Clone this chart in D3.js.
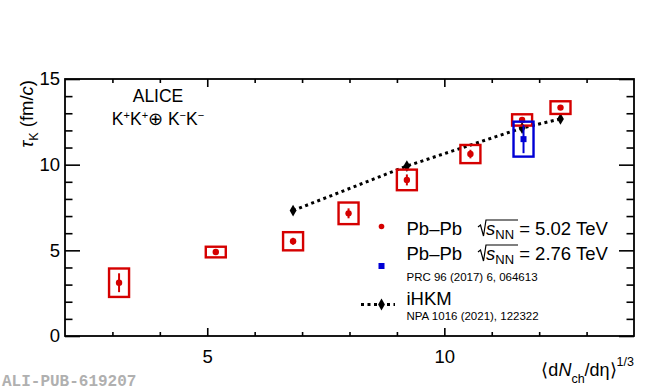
<!DOCTYPE html>
<html>
<head>
<meta charset="utf-8">
<script src="https://cdn.jsdelivr.net/npm/d3@7"></script>
<style>
  html, body { margin: 0; padding: 0; background: #fff; }
  svg { display: block; font-family: "Liberation Sans", Arial, Helvetica, sans-serif; }
  text { fill: #000; }
</style>
</head>
<body>
<svg id="chart" width="650" height="390"></svg>
<script>
// ---------------- DATA ----------------
const x502    = [3.14, 5.18, 6.81, 7.98, 9.21, 10.55, 11.64, 12.45];
const y502    = [3.11, 4.90, 5.53, 7.16, 9.11, 10.62, 12.61, 13.33];
const stat502 = [0.55, 0.17, 0.20, 0.29, 0.32, 0.25, 0.12, 0.12];
const sys502  = [0.83, 0.31, 0.53, 0.63, 0.60, 0.53, 0.33, 0.37];

const x276    = [11.67];
const y276    = [11.49];
const stat276 = [0.82];
const sys276  = [1.02];

const xHKM = [6.81, 9.21, 11.64, 12.45];
const yHKM = [7.32, 9.92, 12.14, 12.67];

const xMajorTicks = [5, 10];
const xMinorTicks = [3, 4, 6, 7, 8, 9, 11, 12, 13];
const yMajorTicks = [0, 5, 10, 15];
const yMinorTicks = [1, 2, 3, 4, 6, 7, 8, 9, 11, 12, 13, 14];

// ---------------- LAYOUT ----------------
const svg = d3.select("#chart");
const L = 65, R = 634, T = 79, B = 336;
const x = d3.scaleLinear().domain([2, 14]).range([L, R]);
const y = d3.scaleLinear().domain([0, 15]).range([B, T]);

const RED = "#d50000", BLUE = "#0000d5";
const BOX_HALF = 10; // px
const SANS = '"Liberation Sans", Arial, Helvetica, sans-serif';

// ---------------- AXES ----------------
function styleAxis(g) {
  g.attr("font-family", null).attr("font-size", null);
  g.select(".domain").remove();
  g.selectAll(".tick line").attr("stroke", "#000").attr("stroke-width", 1.6);
  g.selectAll(".tick text").style("font-size", "18.5px").style("font-family", SANS).attr("fill", "#000");
}
// bottom
svg.append("g").attr("transform", `translate(0,${B})`)
  .call(d3.axisBottom(x).tickValues(xMajorTicks).tickSize(-8).tickPadding(14).tickFormat(d3.format("d")))
  .call(styleAxis);
svg.append("g").attr("transform", `translate(0,${B})`)
  .call(d3.axisBottom(x).tickValues(xMinorTicks).tickSize(-4).tickFormat(""))
  .call(styleAxis);
// top
svg.append("g").attr("transform", `translate(0,${T})`)
  .call(d3.axisTop(x).tickValues(xMajorTicks).tickSize(-8).tickFormat(""))
  .call(styleAxis);
svg.append("g").attr("transform", `translate(0,${T})`)
  .call(d3.axisTop(x).tickValues(xMinorTicks).tickSize(-4).tickFormat(""))
  .call(styleAxis);
// left
svg.append("g").attr("transform", `translate(${L},0)`)
  .call(d3.axisLeft(y).tickValues(yMajorTicks).tickSize(-15).tickPadding(5).tickFormat(d3.format("d")))
  .call(styleAxis);
svg.append("g").attr("transform", `translate(${L},0)`)
  .call(d3.axisLeft(y).tickValues(yMinorTicks).tickSize(-7.5).tickFormat(""))
  .call(styleAxis);
// right
svg.append("g").attr("transform", `translate(${R},0)`)
  .call(d3.axisRight(y).tickValues(yMajorTicks).tickSize(-15).tickFormat(""))
  .call(styleAxis);
svg.append("g").attr("transform", `translate(${R},0)`)
  .call(d3.axisRight(y).tickValues(yMinorTicks).tickSize(-7.5).tickFormat(""))
  .call(styleAxis);
// frame
svg.append("rect").attr("x", L).attr("y", T).attr("width", R - L).attr("height", B - T)
  .attr("fill", "none").attr("stroke", "#000").attr("stroke-width", 1.8);

// ---------------- MODEL LINE ----------------
const hkm = xHKM.map((d, i) => ({ x: d, y: yHKM[i] }));
svg.append("path").datum(hkm)
  .attr("d", d3.line().x(d => x(d.x)).y(d => y(d.y)))
  .attr("fill", "none").attr("stroke", "#000").attr("stroke-width", 3)
  .attr("stroke-dasharray", "3,3.5");
const diamond = d3.symbol().type(d3.symbolDiamond).size(40);
svg.append("g").selectAll("path").data(hkm).join("path")
  .attr("transform", d => `translate(${x(d.x)},${y(d.y)})`)
  .attr("d", diamond).attr("fill", "#000");

// ---------------- DATA POINTS ----------------
function drawSeries(xs, ys, stat, sys, color, marker) {
  const data = xs.map((d, i) => ({ x: d, y: ys[i], st: stat[i], sy: sys[i] }));
  const g = svg.append("g");
  g.selectAll("rect.sys").data(data).join("rect").attr("class", "sys")
    .attr("x", d => x(d.x) - BOX_HALF).attr("width", 2 * BOX_HALF)
    .attr("y", d => y(d.y + d.sy)).attr("height", d => y(d.y - d.sy) - y(d.y + d.sy))
    .attr("fill", "none").attr("stroke", color).attr("stroke-width", 2.4);
  g.selectAll("line.stat").data(data).join("line").attr("class", "stat")
    .attr("x1", d => x(d.x)).attr("x2", d => x(d.x))
    .attr("y1", d => y(d.y + d.st)).attr("y2", d => y(d.y - d.st))
    .attr("stroke", color).attr("stroke-width", 2);
  if (marker === "circle") {
    g.selectAll("circle").data(data).join("circle")
      .attr("cx", d => x(d.x)).attr("cy", d => y(d.y)).attr("r", 3.2).attr("fill", color);
  } else {
    g.selectAll("rect.m").data(data).join("rect").attr("class", "m")
      .attr("x", d => x(d.x) - 3).attr("y", d => y(d.y) - 3)
      .attr("width", 6).attr("height", 6).attr("fill", color);
  }
}
drawSeries(x502, y502, stat502, sys502, RED, "circle");
drawSeries(x276, y276, stat276, sys276, BLUE, "square");

// ---------------- TEXT ----------------
// ALICE label
svg.append("text").attr("x", 158).attr("y", 102).attr("text-anchor", "middle")
  .attr("font-size", 17.5).text("ALICE");
const kk = svg.append("text").attr("x", 158).attr("y", 124.5).attr("text-anchor", "middle").attr("font-size", 17.5);
kk.append("tspan").text("K");
kk.append("tspan").attr("dy", -6).attr("font-size", 11).text("+");
kk.append("tspan").attr("dy", 6).text("K");
kk.append("tspan").attr("dy", -6).attr("font-size", 11).text("+");
kk.append("tspan").attr("dy", 6).text("\u2295 K");
kk.append("tspan").attr("dy", -6).attr("font-size", 11).text("\u2212");
kk.append("tspan").attr("dy", 6).text("K");
kk.append("tspan").attr("dy", -6).attr("font-size", 11).text("\u2212");

// Y title
const yt = svg.append("text").attr("transform", "translate(33,80) rotate(-90)")
  .attr("text-anchor", "end").attr("font-size", 18.5);
yt.append("tspan").attr("font-style", "italic").text("\u03C4");
yt.append("tspan").attr("dy", 5).attr("font-size", 12.5).text("K");
yt.append("tspan").attr("dy", -5).text(" (fm/");
yt.append("tspan").attr("font-style", "italic").text("c");
yt.append("tspan").text(")");

// X title
const xt = svg.append("text").attr("x", 634).attr("y", 376).attr("text-anchor", "end").attr("font-size", 18);
xt.append("tspan").text("\u27E8d");
xt.append("tspan").attr("font-style", "italic").text("N");
xt.append("tspan").attr("dy", 7).attr("font-size", 12.5).text("ch");
xt.append("tspan").attr("dy", -7).text("/d\u03B7\u27E9");
xt.append("tspan").attr("dy", -10).attr("font-size", 12.5).text("1/3");

// ALI-PUB
svg.append("text").attr("x", 2).attr("y", 385.5)
  .style("font-family", '"Liberation Mono", "Courier New", monospace').style("font-weight", "bold")
  .style("font-size", "16px").style("fill", "#b0b0b0").text("ALI-PUB-619207");

// ---------------- LEGEND ----------------
function sqrtEntry(x0, base, energy) {
  const g = svg.append("g");
  g.append("text").attr("x", 406.5).attr("y", base).attr("font-size", 18.5).text("Pb\u2013Pb");
  // radical
  g.append("path")
    .attr("d", `M${x0},${base - 8} L${x0 + 2.5},${base - 10} L${x0 + 5.5},${base + 1} L${x0 + 8},${base - 15} H${x0 + 40}`)
    .attr("fill", "none").attr("stroke", "#000").attr("stroke-width", 1.2);
  const t = g.append("text").attr("x", x0 + 8).attr("y", base).attr("font-size", 18.5);
  t.append("tspan").attr("font-style", "italic").text("s");
  t.append("tspan").attr("dy", 4).attr("font-size", 13).text("NN");
  t.append("tspan").attr("dy", -4).text(" = " + energy + " TeV");
}
svg.append("circle").attr("cx", 381.5).attr("cy", 226.5).attr("r", 2.8).attr("fill", RED);
sqrtEntry(478, 235, "5.02");
svg.append("rect").attr("x", 378.5).attr("y", 263).attr("width", 6).attr("height", 6).attr("fill", BLUE);
sqrtEntry(478, 260, "2.76");
svg.append("text").attr("x", 406.5).attr("y", 280.5).attr("font-size", 11.5).text("PRC 96 (2017) 6, 064613");

svg.append("line").attr("x1", 361).attr("x2", 395).attr("y1", 304.5).attr("y2", 304.5)
  .attr("stroke", "#000").attr("stroke-width", 3).attr("stroke-dasharray", "3,3.5");
svg.append("path").attr("transform", "translate(381.5,304.5)").attr("d", diamond).attr("fill", "#000");
svg.append("text").attr("x", 406.5).attr("y", 305).attr("font-size", 18.5).text("iHKM");
svg.append("text").attr("x", 406.5).attr("y", 319.5).attr("font-size", 11.5).text("NPA 1016 (2021), 122322");
</script>
</body>
</html>
